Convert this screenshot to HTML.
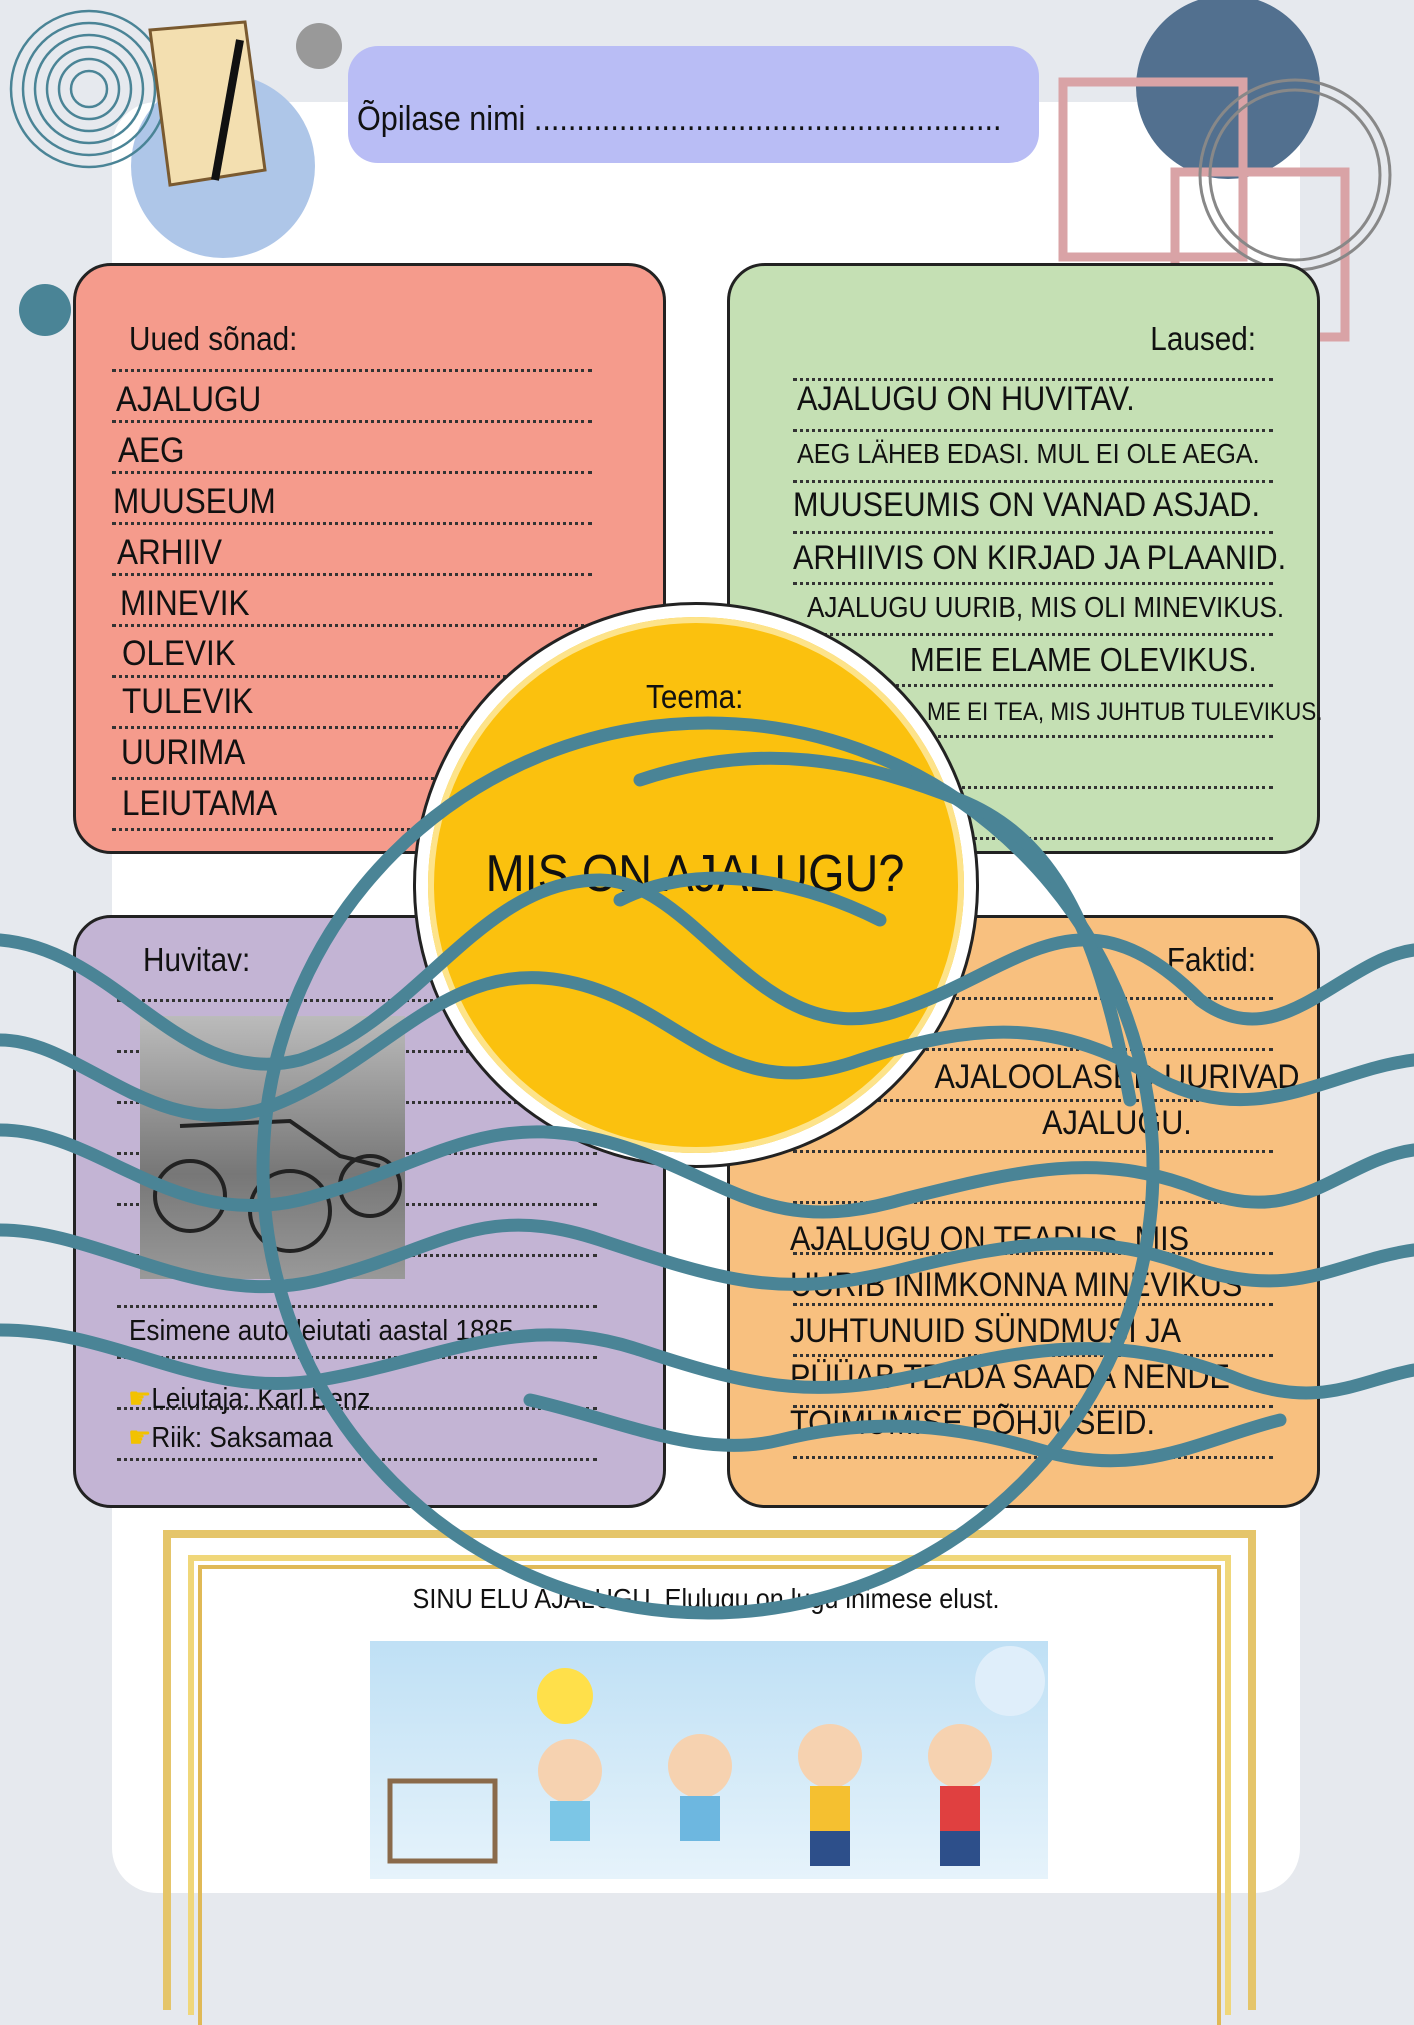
<!DOCTYPE html>
<html><head><meta charset="utf-8"><style>
*{margin:0;padding:0;box-sizing:border-box}
body{width:1414px;height:2000px;background:#e6e9ee;position:relative;overflow:hidden;font-family:"Liberation Sans",sans-serif;color:#111}
.a{position:absolute}
.box{position:absolute;border:3px solid #222;border-radius:38px}
.t{position:absolute;white-space:nowrap;line-height:1;transform:scaleX(.9);transform-origin:left top}
.r{transform-origin:right top}
.c{transform-origin:center top}
.dl{position:absolute;height:0;border-top:3px dotted #333}
</style></head><body>
<div class="a" style="left:112px;top:102px;width:1188px;height:1791px;background:#fff;border-radius:45px"></div>
<div class="a" style="left:131px;top:74px;width:184px;height:184px;border-radius:50%;background:#aec6e8"></div>
<svg class="a" style="left:0;top:0" width="1414" height="400">
<g fill="none" stroke="#4a8496" stroke-width="2.5">
<circle cx="89" cy="89" r="78"/><circle cx="89" cy="89" r="66"/><circle cx="89" cy="89" r="54"/><circle cx="89" cy="89" r="42"/><circle cx="89" cy="89" r="30"/><circle cx="89" cy="89" r="18"/></g>
<circle cx="319" cy="46" r="23" fill="#999"/>
<circle cx="45" cy="310" r="26" fill="#4a8496"/>
<path d="M150 30 L245 22 L265 170 L170 185 Z" fill="#f3dfb0" stroke="#7a5a30" stroke-width="3"/>
<path d="M240 40 L215 180" stroke="#111" stroke-width="8"/>
<circle cx="1228" cy="87" r="92" fill="#52708f"/>
<rect x="1063" y="82" width="180" height="175" fill="none" stroke="#d9a3a6" stroke-width="9"/>
<rect x="1175" y="172" width="170" height="165" fill="none" stroke="#d9a3a6" stroke-width="9"/>
<circle cx="1295" cy="175" r="95" fill="none" stroke="#888" stroke-width="3"/>
<circle cx="1295" cy="175" r="85" fill="none" stroke="#888" stroke-width="3"/>
</svg>
<div class="a" style="left:348px;top:46px;width:691px;height:117px;background:#b9bdf5;border-radius:30px"></div>
<div class="t" style="left:357px;top:102px;font-size:34px">Õpilase nimi .......................................................</div>

<div class="box" style="left:73px;top:263px;width:593px;height:591px;background:#f59b8c"></div>
<div class="t" style="left:129px;top:322px;font-size:33px">Uued sõnad:</div>
<div class="dl" style="left:112px;top:369px;width:480px"></div>
<div class="dl" style="left:112px;top:420px;width:480px"></div>
<div class="dl" style="left:112px;top:471px;width:480px"></div>
<div class="dl" style="left:112px;top:522px;width:480px"></div>
<div class="dl" style="left:112px;top:573px;width:480px"></div>
<div class="dl" style="left:112px;top:624px;width:480px"></div>
<div class="dl" style="left:112px;top:675px;width:480px"></div>
<div class="dl" style="left:112px;top:726px;width:480px"></div>
<div class="dl" style="left:112px;top:777px;width:480px"></div>
<div class="dl" style="left:112px;top:828px;width:480px"></div>
<div class="t" style="left:116px;top:382px;font-size:35px">AJALUGU</div>
<div class="t" style="left:118px;top:433px;font-size:35px">AEG</div>
<div class="t" style="left:113px;top:484px;font-size:35px">MUUSEUM</div>
<div class="t" style="left:117px;top:535px;font-size:35px">ARHIIV</div>
<div class="t" style="left:120px;top:586px;font-size:35px">MINEVIK</div>
<div class="t" style="left:122px;top:636px;font-size:35px">OLEVIK</div>
<div class="t" style="left:122px;top:684px;font-size:35px">TULEVIK</div>
<div class="t" style="left:121px;top:735px;font-size:35px">UURIMA</div>
<div class="t" style="left:122px;top:786px;font-size:35px">LEIUTAMA</div>

<div class="box" style="left:727px;top:263px;width:593px;height:591px;background:#c5e0b4"></div>
<div class="t r" style="left:1000px;width:256px;text-align:right;top:322px;font-size:33px">Laused:</div>
<div class="dl" style="left:793px;top:378px;width:480px"></div>
<div class="dl" style="left:793px;top:429px;width:480px"></div>
<div class="dl" style="left:793px;top:480px;width:480px"></div>
<div class="dl" style="left:793px;top:531px;width:480px"></div>
<div class="dl" style="left:793px;top:582px;width:480px"></div>
<div class="dl" style="left:793px;top:633px;width:480px"></div>
<div class="dl" style="left:793px;top:684px;width:480px"></div>
<div class="dl" style="left:793px;top:735px;width:480px"></div>
<div class="dl" style="left:793px;top:786px;width:480px"></div>
<div class="dl" style="left:793px;top:837px;width:480px"></div>
<div class="t" style="left:797px;top:382px;font-size:34px">AJALUGU ON HUVITAV.</div>
<div class="t" style="left:797px;top:440px;font-size:28px">AEG LÄHEB EDASI. MUL EI OLE AEGA.</div>
<div class="t" style="left:793px;top:488px;font-size:34px">MUUSEUMIS ON VANAD ASJAD.</div>
<div class="t" style="left:793px;top:541px;font-size:34px">ARHIIVIS ON KIRJAD JA PLAANID.</div>
<div class="t" style="left:807px;top:594px;font-size:29px">AJALUGU UURIB, MIS OLI MINEVIKUS.</div>
<div class="t" style="left:910px;top:643px;font-size:33px">MEIE ELAME OLEVIKUS.</div>
<div class="t" style="left:927px;top:700px;font-size:25px">ME EI TEA, MIS JUHTUB TULEVIKUS.</div>

<div class="box" style="left:73px;top:915px;width:593px;height:593px;background:#c3b4d4"></div>
<div class="t" style="left:143px;top:943px;font-size:33px">Huvitav:</div>
<div class="dl" style="left:117px;top:999px;width:480px"></div>
<div class="dl" style="left:117px;top:1050px;width:480px"></div>
<div class="dl" style="left:117px;top:1101px;width:480px"></div>
<div class="dl" style="left:117px;top:1152px;width:480px"></div>
<div class="dl" style="left:117px;top:1203px;width:480px"></div>
<div class="dl" style="left:117px;top:1254px;width:480px"></div>
<div class="dl" style="left:117px;top:1305px;width:480px"></div>
<div class="dl" style="left:117px;top:1356px;width:480px"></div>
<div class="dl" style="left:117px;top:1407px;width:480px"></div>
<div class="dl" style="left:117px;top:1458px;width:480px"></div>
<div class="a" style="left:140px;top:1016px;width:265px;height:263px;background:linear-gradient(#bbb,#777 60%,#999)"></div>
<svg class="a" style="left:140px;top:1016px" width="265" height="263"><g fill="none" stroke="#222" stroke-width="4"><circle cx="50" cy="180" r="35"/><circle cx="150" cy="195" r="40"/><circle cx="230" cy="170" r="30"/><path d="M40 110 L150 105 L200 140 L240 150"/></g></svg>
<div class="t" style="left:129px;top:1317px;font-size:29px">Esimene auto leiutati aastal 1885.</div>
<div class="t" style="left:128px;top:1385px;font-size:29px"><span style="color:#f2c200">☛</span>Leiutaja: Karl Benz</div>
<div class="t" style="left:128px;top:1424px;font-size:29px"><span style="color:#f2c200">☛</span>Riik: Saksamaa</div>

<div class="box" style="left:727px;top:915px;width:593px;height:593px;background:#f8c07f"></div>
<div class="t r" style="left:1000px;width:256px;text-align:right;top:943px;font-size:33px">Faktid:</div>
<div class="dl" style="left:793px;top:997px;width:480px"></div>
<div class="dl" style="left:793px;top:1048px;width:480px"></div>
<div class="dl" style="left:793px;top:1099px;width:480px"></div>
<div class="dl" style="left:793px;top:1150px;width:480px"></div>
<div class="dl" style="left:793px;top:1201px;width:480px"></div>
<div class="dl" style="left:793px;top:1252px;width:480px"></div>
<div class="dl" style="left:793px;top:1303px;width:480px"></div>
<div class="dl" style="left:793px;top:1354px;width:480px"></div>
<div class="dl" style="left:793px;top:1405px;width:480px"></div>
<div class="dl" style="left:793px;top:1456px;width:480px"></div>
<div class="t c" style="left:897px;width:440px;text-align:center;top:1054px;font-size:34px;line-height:46px">AJALOOLASED UURIVAD<br>AJALUGU.</div>
<div class="t" style="left:790px;top:1216px;font-size:34px;line-height:46px">AJALUGU ON TEADUS, MIS<br>UURIB INIMKONNA MINEVIKUS<br>JUHTUNUID SÜNDMUSI JA<br>PÜÜAB TEADA SAADA NENDE<br>TOIMUMISE PÕHJUSEID.</div>

<div class="a" style="left:413px;top:602px;width:566px;height:566px;border-radius:50%;background:#fff;border:3px solid #222"></div>
<div class="a" style="left:428px;top:617px;width:536px;height:536px;border-radius:50%;background:#fbc10e;box-shadow:0 0 0 6px #fde38a inset"></div>
<div class="t" style="left:646px;top:680px;font-size:33px">Teema:</div>
<div class="t c" style="left:395px;width:600px;text-align:center;top:848px;font-size:52px">MIS ON AJALUGU?</div>

<div class="a" style="left:163px;top:1530px;width:1093px;height:480px;border:8px solid #e5c56a;border-bottom:none"></div>
<div class="a" style="left:188px;top:1555px;width:1043px;height:460px;border:6px solid #f0d77a;border-bottom:none"></div>
<div class="a" style="left:198px;top:1565px;width:1023px;height:460px;border:4px solid #e0b956;border-bottom:none"></div>
<div class="t c" style="left:200px;width:1012px;text-align:center;top:1585px;font-size:28px">SINU ELU AJALUGU. Elulugu on lugu inimese elust.</div>
<div class="a" style="left:370px;top:1641px;width:678px;height:238px;background:linear-gradient(#bfe0f5,#e6f3fb)"></div>
<svg class="a" style="left:370px;top:1641px" width="678" height="238">
<circle cx="195" cy="55" r="28" fill="#ffe04a"/>
<circle cx="640" cy="40" r="35" fill="#dfeefa"/>
<rect x="20" y="140" width="105" height="80" fill="none" stroke="#8a6a4a" stroke-width="5"/>
<circle cx="200" cy="130" r="32" fill="#f6d2b0"/><rect x="180" y="160" width="40" height="40" fill="#7cc6e6"/>
<circle cx="330" cy="125" r="32" fill="#f6d2b0"/><rect x="310" y="155" width="40" height="45" fill="#6db7e0"/>
<circle cx="460" cy="115" r="32" fill="#f6d2b0"/><rect x="440" y="145" width="40" height="45" fill="#f5c030"/><rect x="440" y="190" width="40" height="35" fill="#2d4f8a"/>
<circle cx="590" cy="115" r="32" fill="#f6d2b0"/><rect x="570" y="145" width="40" height="45" fill="#e04040"/><rect x="570" y="190" width="40" height="35" fill="#2d4f8a"/>
</svg>

<svg class="a" style="left:0;top:0" width="1414" height="2000">
<g fill="none" stroke="#4a8496" stroke-width="13" stroke-linecap="round">
<circle cx="708" cy="1168" r="445"/>
<path d="M0 940 C120 950 180 1090 300 1060 C420 1020 480 880 600 880 C700 880 760 1060 900 1010 C1020 970 1080 880 1200 1000 C1280 1060 1340 960 1414 950"/>
<path d="M0 1040 C80 1040 150 1140 260 1110 C380 1070 440 960 560 980 C680 1000 720 1110 860 1060 C980 1020 1060 1020 1160 1080 C1260 1130 1330 1070 1414 1060"/>
<path d="M0 1130 C100 1130 170 1230 300 1200 C420 1170 480 1110 600 1140 C720 1170 760 1240 900 1200 C1020 1170 1100 1150 1200 1190 C1300 1230 1340 1160 1414 1150"/>
<path d="M0 1230 C100 1230 200 1310 320 1280 C440 1250 480 1200 600 1240 C720 1280 780 1300 900 1270 C1020 1240 1100 1230 1200 1270 C1300 1300 1340 1260 1414 1250"/>
<path d="M0 1330 C120 1330 200 1400 320 1380 C440 1360 520 1310 640 1350 C760 1390 820 1400 940 1370 C1060 1340 1140 1340 1240 1380 C1320 1410 1360 1380 1414 1370"/>
<path d="M530 1400 C620 1420 700 1460 780 1440 C860 1420 940 1420 1040 1450 C1140 1480 1200 1440 1280 1420"/>
<path d="M640 780 C760 740 860 760 960 800 C1060 840 1100 940 1130 1100"/>
<path d="M620 900 C700 860 800 880 880 920"/>
</g></svg>
</body></html>
